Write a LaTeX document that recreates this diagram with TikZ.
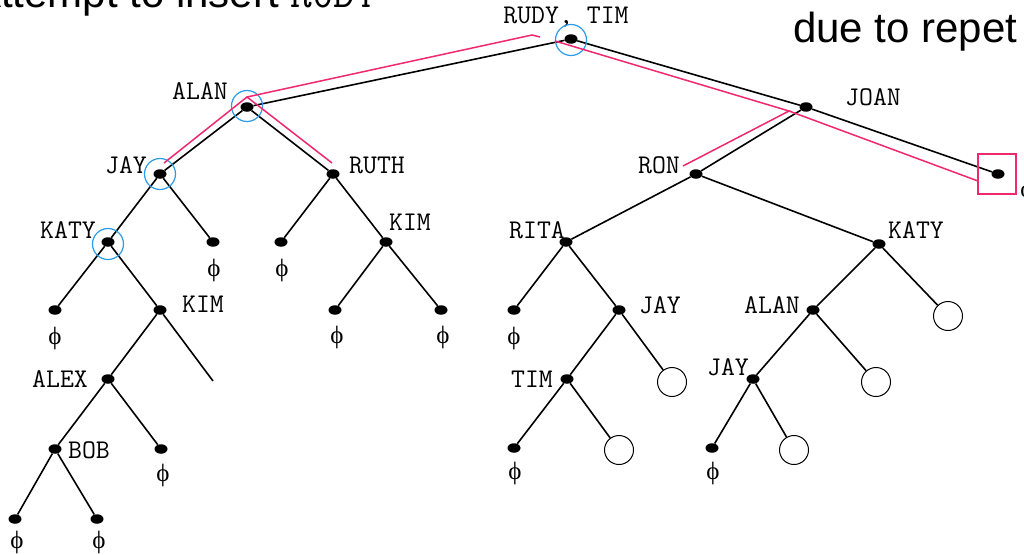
\documentclass[tikz,border=0pt]{standalone}
\usepackage{fontspec}
\setmainfont{Liberation Sans}
\newfontfamily\serf{Liberation Serif}
\usetikzlibrary{shapes.geometric}
\definecolor{hlpink}{HTML}{F0286E}
\definecolor{ringblue}{HTML}{2B9CE8}
\begin{document}
\begin{tikzpicture}[x=1pt,y=-1pt,
 dot/.style={ellipse,fill=black,inner sep=0pt,minimum width=13pt,minimum height=9.5pt},
 leaf/.style={circle,draw=black,line width=1pt,inner sep=0pt,minimum size=29pt},
 lbl/.style={font=\ttfamily\fontsize{27}{29}\selectfont,inner sep=0pt},
 nul/.style={font=\serf\fontsize{25}{27}\selectfont,inner sep=0pt},
 edge/.style={draw=black,line width=1.6pt},
 hl/.style={draw=hlpink,line width=1.5pt},
 ring/.style={circle,draw=ringblue,line width=1.2pt,inner sep=0pt,minimum size=31pt},
 big/.style={font=\fontsize{42}{46}\selectfont,inner sep=0pt,anchor=base west}
 ]
\useasboundingbox (0,0) rectangle (1024,554);
\clip (0,0) rectangle (1024,554);
\fill[white] (0,0) rectangle (1024,554);

% headings (cut by the frame, as in the reference)
\node[big] (head1) at (-27,8) {Attempt to insert {\ttfamily RUDY}};
\node[big] (head2) at (793,42) {due to repet};

% nodes, left subtree
\node[dot] (root) at (571,39) {};
\node[dot] (alan) at (247,107) {};
\node[dot] (jay) at (160,174) {};
\node[dot] (ruth) at (333,174) {};
\node[dot] (katy) at (108,242) {};
\node[dot] (jayr) at (213,242) {};
\node[dot] (ruthl) at (281,242) {};
\node[dot] (kima) at (386,242) {};
\node[dot] (katyl) at (55,310) {};
\node[dot] (kimb) at (160,310) {};
\node[dot] (kimal) at (335,310) {};
\node[dot] (kimar) at (441,310) {};
\node[dot] (alex) at (108,379) {};
\coordinate (kimbend) at (213,381);
\node[dot] (bob) at (55,449) {};
\node[dot] (alexr) at (161,449) {};
\node[dot] (bobl) at (15,519) {};
\node[dot] (bobr) at (97,519) {};

% nodes, right subtree
\node[dot] (joan) at (806,107) {};
\node[dot] (ron) at (696,174) {};
\node[dot] (joanr) at (998,174) {};
\node[dot] (rita) at (566,242) {};
\node[dot] (katyb) at (879,244) {};
\node[dot] (rital) at (514,310) {};
\node[dot] (jayb) at (619,310) {};
\node[dot] (alanb) at (813,310) {};
\node[leaf] (ca) at (948,316) {};
\node[dot] (tim) at (567,379) {};
\node[leaf] (cb) at (672,382) {};
\node[dot] (jayc) at (753,379) {};
\node[leaf] (cc) at (876,382) {};
\node[dot] (timl) at (514,448) {};
\node[leaf] (cd) at (619,450) {};
\node[dot] (jaycl) at (712,448) {};
\node[leaf] (ce) at (794,450) {};

% edges
\draw[edge] (root) -- (alan);
\draw[edge] (root) -- (joan);
\draw[edge] (alan) -- (jay);
\draw[edge] (alan) -- (ruth);
\draw[edge] (jay) -- (katy);
\draw[edge] (jay) -- (jayr);
\draw[edge] (ruth) -- (ruthl);
\draw[edge] (ruth) -- (kima);
\draw[edge] (katy) -- (katyl);
\draw[edge] (katy) -- (kimb);
\draw[edge] (kima) -- (kimal);
\draw[edge] (kima) -- (kimar);
\draw[edge] (kimb) -- (alex);
\draw[edge] (kimb) -- (kimbend);
\draw[edge] (alex) -- (bob);
\draw[edge] (alex) -- (alexr);
\draw[edge] (bob) -- (bobl);
\draw[edge] (bob) -- (bobr);
\draw[edge] (joan) -- (ron);
\draw[edge] (joan) -- (joanr);
\draw[edge] (ron) -- (rita);
\draw[edge] (ron) -- (katyb);
\draw[edge] (rita) -- (rital);
\draw[edge] (rita) -- (jayb);
\draw[edge] (katyb) -- (alanb);
\draw[edge] (katyb) -- (ca);
\draw[edge] (jayb) -- (tim);
\draw[edge] (jayb) -- (cb);
\draw[edge] (alanb) -- (jayc);
\draw[edge] (alanb) -- (cc);
\draw[edge] (tim) -- (timl);
\draw[edge] (tim) -- (cd);
\draw[edge] (jayc) -- (jaycl);
\draw[edge] (jayc) -- (ce);

% labels
\node[lbl] (lroot) at (566,17) {RUDY, TIM};
\node[lbl] (lalan) at (200,91) {ALAN};
\node[lbl] (ljay) at (126,165) {JAY};
\node[lbl] (lruth) at (377,165) {RUTH};
\node[lbl] (lkaty) at (68,230) {KATY};
\node[lbl] (lkima) at (410,222) {KIM};
\node[lbl] (lkimb) at (203,304) {KIM};
\node[lbl] (lalex) at (60,379) {ALEX};
\node[lbl] (lbob) at (89,450) {BOB};
\node[lbl] (ljoan) at (873,97) {JOAN};
\node[lbl] (lron) at (659,165) {RON};
\node[lbl] (lrita) at (537,230) {RITA};
\node[lbl] (lkatyb) at (916,230) {KATY};
\node[lbl] (ljayb) at (660,305) {JAY};
\node[lbl] (lalanb) at (772,305) {ALAN};
\node[lbl] (ltim) at (532,379) {TIM};
\node[lbl] (ljayc) at (728,367) {JAY};

% empty subtrees
\node[nul] (n1) at (214,270) {ϕ};
\node[nul] (n2) at (282,270) {ϕ};
\node[nul] (n3) at (55,338) {ϕ};
\node[nul] (n4) at (337,337) {ϕ};
\node[nul] (n5) at (443,337) {ϕ};
\node[nul] (n6) at (163,475) {ϕ};
\node[nul] (n7) at (17,542) {ϕ};
\node[nul] (n8) at (99,542) {ϕ};
\node[nul] (n9) at (514,338) {ϕ};
\node[nul] (n10) at (515,473) {ϕ};
\node[nul] (n11) at (713,473) {ϕ};
\node[nul] (n12) at (1027,191) {ϕ};

% search path rings
\node[ring] (rroot) at (571,40) {};
\node[ring] (ralan) at (247,106) {};
\node[ring] (rjay) at (160,174) {};
\node[ring] (rkaty) at (108,244) {};

% highlighted insertion paths
\coordinate (pa) at (164,163);
\coordinate (pb) at (247,97);
\coordinate (pc) at (332,163);
\coordinate (pd) at (532,35);
\coordinate (pe) at (540,37);
\coordinate (pf) at (555,41);
\coordinate (pg) at (789,111);
\coordinate (ph) at (683,166);
\coordinate (pi) at (978,181);
\draw[hl] (pa) -- (pb) -- (pc);
\draw[hl] (pb) -- (pd) -- (pe);
\draw[hl] (pf) -- (pg) -- (ph);
\draw[hl] (pg) -- (pi);
\node[draw=hlpink,line width=1.2pt,minimum width=38pt,minimum height=40pt,inner sep=0pt] (sq) at (997,174) {};
\end{tikzpicture}
\end{document}
